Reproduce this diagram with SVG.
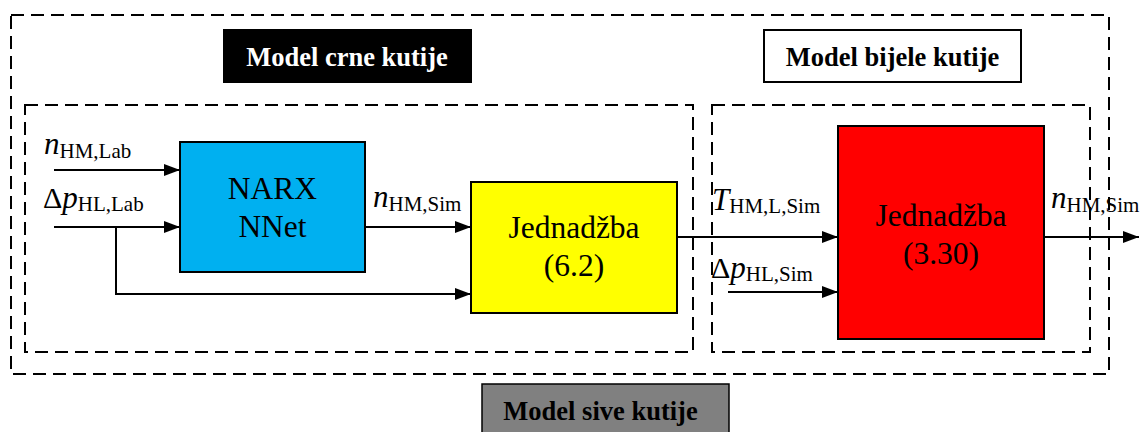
<svg xmlns="http://www.w3.org/2000/svg" width="1147" height="432" viewBox="0 0 1147 432">
<style>
.dash{fill:none;stroke:#000;stroke-width:2;stroke-dasharray:13 7}
.box{stroke:#000;stroke-width:2}
.lbl{font-family:"Liberation Serif","Times New Roman",serif;font-weight:bold;font-size:26.5px}
.big{font-family:"Liberation Serif","Times New Roman",serif;font-size:31.5px;text-anchor:middle;fill:#000}
.var{font-family:"Liberation Serif","Times New Roman",serif;font-size:30px;fill:#000}
.it{font-style:italic;font-size:31px}
.sub{font-size:21px;font-style:normal}
.wire{fill:none;stroke:#000;stroke-width:2}
</style>
<defs>
<marker id="ah" viewBox="0 0 16 12" refX="16" refY="6" markerWidth="16" markerHeight="12" markerUnits="userSpaceOnUse" orient="auto">
<path d="M0,0 L16,6 L0,12 Z" fill="#000"/>
</marker>
</defs>
<g id="frames">
<rect class="dash" x="11" y="15" width="1098" height="359"/>
<rect class="dash" x="25" y="105" width="668" height="247"/>
<rect class="dash" x="712" y="105" width="378" height="247"/>
</g>
<g id="label-black">
<rect x="223" y="29" width="249" height="54" fill="#000"/>
<text class="lbl" x="347" y="66" text-anchor="middle" fill="#fff">Model crne kutije</text>
</g>
<g id="label-white">
<rect class="box" x="764" y="30" width="257" height="52" fill="#fff"/>
<text class="lbl" x="892.5" y="66" text-anchor="middle" fill="#000">Model bijele kutije</text>
</g>
<g id="label-gray">
<rect x="482" y="384" width="247" height="60" fill="#808080" stroke="#000" stroke-width="1.5"/>
<text class="lbl" x="600.5" y="420" text-anchor="middle" fill="#000">Model sive kutije</text>
</g>
<g id="connectors">
<line class="wire" x1="54" y1="170" x2="180" y2="170" marker-end="url(#ah)"/>
<line class="wire" x1="54" y1="227" x2="180" y2="227" marker-end="url(#ah)"/>
<polyline class="wire" points="116,227 116,294 471,294" marker-end="url(#ah)"/>
<line class="wire" x1="365" y1="227" x2="471" y2="227" marker-end="url(#ah)"/>
<line class="wire" x1="677" y1="237" x2="838" y2="237" marker-end="url(#ah)"/>
<line class="wire" x1="728" y1="292" x2="838" y2="292" marker-end="url(#ah)"/>
<line class="wire" x1="1044" y1="237" x2="1139" y2="237" marker-end="url(#ah)"/>
</g>
<g id="narx">
<rect class="box" x="180" y="142" width="185" height="130" fill="#00B0F0"/>
<text class="big" x="272.5" y="199">NARX</text>
<text class="big" x="272.5" y="237">NNet</text>
</g>
<g id="eq62">
<rect class="box" x="471" y="182" width="206" height="131" fill="#FFFF00"/>
<text class="big" x="574" y="238">Jednadžba</text>
<text class="big" x="574" y="276">(6.2)</text>
</g>
<g id="eq330">
<rect class="box" x="838" y="126" width="206" height="213" fill="#FF0000"/>
<text class="big" x="941" y="226">Jednadžba</text>
<text class="big" x="941" y="264">(3.30)</text>
</g>
<g id="var-labels">
<text class="var" x="44" y="154"><tspan class="it">n</tspan><tspan class="sub" dy="4">HM,Lab</tspan></text>
<text class="var" x="43" y="208">Δ<tspan class="it">p</tspan><tspan class="sub" dy="3">HL,Lab</tspan></text>
<text class="var" x="373" y="207"><tspan class="it">n</tspan><tspan class="sub" dy="4">HM,Sim</tspan></text>
<text class="var" x="712" y="210"><tspan class="it">T</tspan><tspan class="sub" dy="3">HM,L,Sim</tspan></text>
<text class="var" x="711" y="278">Δ<tspan class="it">p</tspan><tspan class="sub" dy="3">HL,Sim</tspan></text>
<text class="var" x="1051" y="208"><tspan class="it">n</tspan><tspan class="sub" dy="4">HM,Sim</tspan></text>
</g>
</svg>
